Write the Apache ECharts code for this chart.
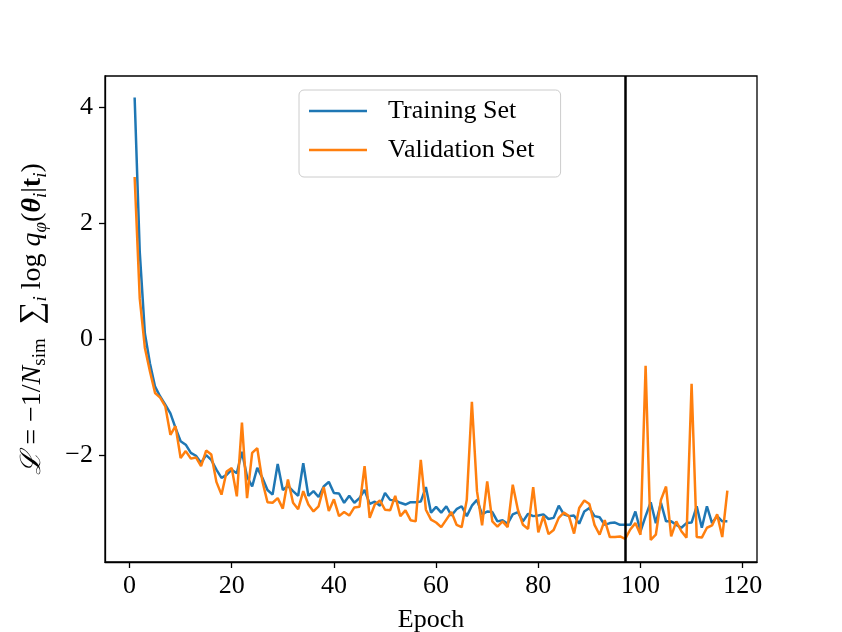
<!DOCTYPE html>
<html>
<head>
<meta charset="utf-8">
<script src="https://cdn.jsdelivr.net/npm/echarts@6/dist/echarts.min.js"></script>
<style>
  html, body { margin: 0; padding: 0; background: #fff; }
  #chart { width: 842px; height: 632px; }
</style>
</head>
<body>
<div id="chart"></div>
<script>
// epochs 1..117
var epochs = [];
for (var i = 1; i <= 117; i++) epochs.push(i);

var trainLoss = [
  4.16, 1.5, 0.1, -0.42, -0.82, -0.99, -1.13, -1.28, -1.53, -1.76,
  -1.82, -1.96, -2.01, -2.13, -2.00, -2.08, -2.25, -2.39, -2.34, -2.25,
  -2.31, -1.94, -2.37, -2.54, -2.22, -2.39, -2.60, -2.68, -2.15, -2.60,
  -2.53, -2.62, -2.70, -2.14, -2.70, -2.62, -2.72, -2.54, -2.46, -2.65,
  -2.66, -2.82, -2.70, -2.82, -2.74, -2.60, -2.84, -2.80, -2.87, -2.65,
  -2.77, -2.78, -2.82, -2.85, -2.81, -2.81, -2.80, -2.55, -2.99, -2.89,
  -2.99, -2.88, -3.04, -2.93, -2.88, -3.05, -2.87, -2.77, -3.02, -2.97,
  -2.98, -3.14, -3.12, -3.18, -3.02, -2.98, -3.14, -3.01, -3.05, -3.04,
  -3.02, -3.10, -3.08, -2.87, -3.02, -3.05, -3.04, -3.18, -2.97, -2.91,
  -3.05, -3.07, -3.20, -3.17, -3.16, -3.20, -3.20, -3.20, -2.97, -3.31,
  -3.05, -2.81, -3.17, -2.82, -3.14, -3.14, -3.20, -3.25, -3.17, -3.16,
  -2.88, -3.25, -2.88, -3.17, -3.05, -3.14, -3.14
];

var valLoss = [
  2.79, 0.70, -0.15, -0.56, -0.93, -1.01, -1.16, -1.65, -1.50, -2.05,
  -1.93, -2.06, -2.04, -2.19, -1.92, -1.99, -2.46, -2.68, -2.28, -2.22,
  -2.71, -1.44, -2.74, -1.96, -1.88, -2.45, -2.81, -2.82, -2.74, -2.92,
  -2.42, -2.82, -2.93, -2.62, -2.85, -2.97, -2.88, -2.55, -2.96, -2.76,
  -3.05, -2.98, -3.04, -2.90, -2.89, -2.19, -3.08, -2.85, -2.78, -2.94,
  -2.95, -2.70, -3.05, -2.95, -3.12, -3.14, -2.08, -2.94, -3.11, -3.16,
  -3.24, -3.11, -2.98, -3.20, -3.24, -2.77, -1.08, -2.62, -3.21, -2.45,
  -3.14, -3.23, -3.14, -3.24, -2.51, -2.94, -3.20, -3.27, -2.55, -3.33,
  -3.05, -3.36, -3.29, -3.08, -2.99, -3.05, -3.35, -2.91, -2.78, -2.84,
  -3.20, -3.37, -3.12, -3.41, -3.41, -3.40, -3.44, -3.28, -3.17, -3.37,
  -0.46, -3.46, -3.37, -2.77, -2.54, -3.40, -3.14, -3.31, -3.42, -0.77,
  -3.41, -3.42, -3.25, -3.21, -3.02, -3.41, -2.61
];

var xTicks = [0, 20, 40, 60, 80, 100, 120];
var yTicks = [-2, 0, 2, 4];
var bestEpoch = 97;

function pairs(ys) {
  return epochs.map(function (e, k) { return [e, ys[k]]; });
}

var serif = 'Liberation Serif';
var black = '#000';
var axisLine = { show: true, onZero: false, lineStyle: { color: black, width: 1.3 } };

var chart = echarts.init(document.getElementById('chart'));
chart.setOption({
  animation: false,
  backgroundColor: '#fff',
  grid: {
    left: 105, right: 85, top: 76, bottom: 70,
    outerBoundsMode: 'none',
    containLabel: false,
    show: true, borderColor: black, borderWidth: 1.3
  },
  legend: {
    data: ['Training Set', 'Validation Set'],
    orient: 'vertical',
    left: 299, top: 90,
    icon: 'rect',
    itemWidth: 58, itemHeight: 2.5,
    itemGap: 13,
    padding: [8, 26, 14, 10],
    backgroundColor: 'rgba(255,255,255,0.8)',
    borderColor: '#cccccc', borderWidth: 1, borderRadius: 5,
    textStyle: { fontFamily: serif, fontSize: 26, color: black, padding: [0, 0, 0, 16] }
  },
  xAxis: {
    type: 'value',
    min: -4.8, max: 122.8,
    axisLine: axisLine,
    axisTick: { show: true, customValues: xTicks, length: 6, lineStyle: { color: black, width: 1.3 } },
    axisLabel: { customValues: xTicks, margin: 11, fontFamily: serif, fontSize: 26, color: black },
    splitLine: { show: false },
    name: 'Epoch',
    nameLocation: 'middle',
    nameGap: 45,
    nameTextStyle: { fontFamily: serif, fontSize: 26, color: black }
  },
  yAxis: {
    type: 'value',
    min: -3.84, max: 4.53,
    axisLine: axisLine,
    axisTick: { show: true, customValues: yTicks, length: 6, lineStyle: { color: black, width: 1.3 } },
    axisLabel: {
      customValues: yTicks, margin: 12, fontFamily: serif, fontSize: 26, color: black,
      formatter: function (v) { return v < 0 ? '\u2212' + Math.abs(v) : String(v); }
    },
    splitLine: { show: false },
    name: '{it|ℒ} = \u22121/{it|N}{sub|sim}  {sum|∑}{subi|i} log {it|q}{subi|φ}({bth|θ}{subi|i}|{bt|t}{subi|i})',
    nameLocation: 'middle',
    nameRotate: 90,
    nameGap: 56,
    nameTextStyle: {
      fontFamily: serif, fontSize: 28, color: black,
      rich: {
        it: { fontFamily: serif, fontSize: 28, fontStyle: 'italic', color: black },
        sub: { fontFamily: serif, fontSize: 19, color: black, lineHeight: 19, padding: [15, 0, 0, 0] },
        subi: { fontFamily: serif, fontSize: 19, fontStyle: 'italic', color: black, lineHeight: 19, padding: [15, 0, 0, 0] },
        sum: { fontFamily: serif, fontSize: 32, color: black },
        bth: { fontFamily: serif, fontSize: 28, fontStyle: 'italic', fontWeight: 'bold', color: black },
        bt: { fontFamily: serif, fontSize: 28, fontWeight: 'bold', color: black }
      }
    }
  },
  series: [
    {
      name: 'Training Set',
      type: 'line',
      data: pairs(trainLoss),
      symbol: 'none',
      color: '#1f77b4',
      lineStyle: { width: 2.5, color: '#1f77b4' },
      markLine: {
        silent: true,
        symbol: 'none',
        label: { show: false },
        lineStyle: { color: black, width: 2.5, type: 'solid' },
        data: [{ xAxis: bestEpoch }]
      }
    },
    {
      name: 'Validation Set',
      type: 'line',
      data: pairs(valLoss),
      symbol: 'none',
      color: '#ff7f0e',
      lineStyle: { width: 2.5, color: '#ff7f0e' }
    }
  ]
});
</script>
</body>
</html>
